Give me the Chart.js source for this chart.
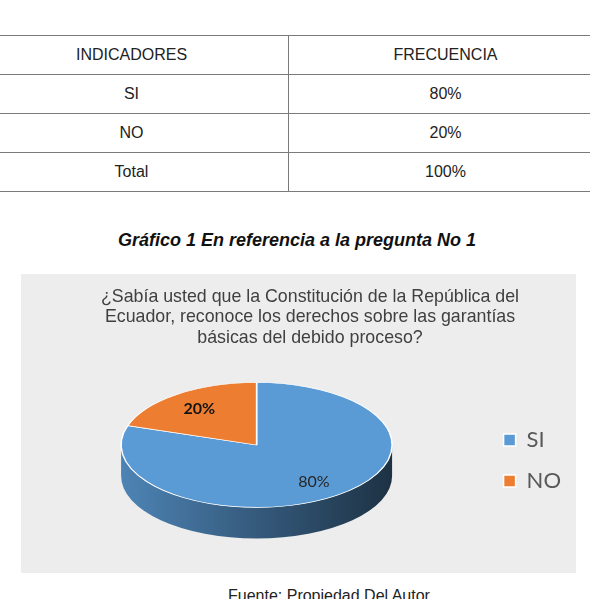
<!DOCTYPE html>
<html lang="es">
<head>
<meta charset="UTF-8">
<meta name="viewport" content="width=device-width, initial-scale=1.0">
<title>Gráfico 1 En referencia a la pregunta No 1</title>
<script src="https://cdn.jsdelivr.net/npm/chart.js"></script>
<style>
  body {
    margin: 0;
    width: 590px;
    height: 599px;
    overflow: hidden;
    position: relative;
    background: #fff;
    font-family: "Liberation Sans", Arial, sans-serif;
    color: #222;
  }
  #tabla {
    position: absolute;
    left: -25px;
    top: 35px;
    width: 627px;
    border-collapse: collapse;
    font-size: 16px;
  }
  #tabla td {
    border-top: 1px solid #7a7a7a;
    border-bottom: 1px solid #7a7a7a;
    height: 38px;
    padding: 0;
    text-align: center;
  }
  #tabla td:first-child {
    border-right: 1px solid #7a7a7a;
    width: 313px;
  }
  .caption {
    position: absolute;
    top: 230px;
    left: 2px;
    width: 590px;
    text-align: center;
    font-size: 18px;
    line-height: 21px;
    font-weight: bold;
    font-style: italic;
    color: #111;
  }
  #grafico {
    position: absolute;
    left: 21px;
    top: 274px;
    background: #ededed;
  }
  .fuente {
    position: absolute;
    left: 228px;
    top: 587px;
    font-size: 16px;
    line-height: 18px;
  }
</style>
</head>
<body>
  <table id="tabla"><tbody></tbody></table>
  <div class="caption">Gráfico 1 En referencia a la pregunta No 1</div>
  <canvas id="grafico" width="555" height="299"></canvas>
  <div class="fuente">Fuente: Propiedad Del Autor</div>

<script>
  // datos
  const encabezados = ['INDICADORES', 'FRECUENCIA'];
  const categorias = ['SI', 'NO'];
  const porcentajes = [80, 20];
  const colores = ['#5b9bd5', '#ed7d31'];
  const tituloGrafico = [
    '¿Sabía usted que la Constitución de la República del',
    'Ecuador, reconoce los derechos sobre las garantías',
    'básicas del debido proceso?'
  ];

  // tabla de frecuencias
  const cuerpo = document.querySelector('#tabla tbody');
  function fila(a, b) {
    const tr = document.createElement('tr');
    [a, b].forEach((t) => {
      const td = document.createElement('td');
      td.textContent = t;
      tr.appendChild(td);
    });
    cuerpo.appendChild(tr);
  }
  fila(encabezados[0], encabezados[1]);
  categorias.forEach((c, i) => fila(c, porcentajes[i] + '%'));
  fila('Total', porcentajes.reduce((s, v) => s + v, 0) + '%');

  // efecto 3D: cara superior achatada + pared lateral
  const PROF = 31;
  const ACHATE = 0.461;
  const estiloEtiqueta = [
    { weight: 'normal', color: '#262626' },
    { weight: 'bold', color: '#141414' }
  ];

  function oscurecer(hex, f) {
    const n = parseInt(hex.slice(1), 16);
    const r = Math.round(((n >> 16) & 255) * f);
    const g = Math.round(((n >> 8) & 255) * f);
    const b = Math.round((n & 255) * f);
    return `rgb(${r},${g},${b})`;
  }

  function centro(chart) {
    const arcs = chart.getDatasetMeta(0).data;
    const p = arcs[0].getProps(['x', 'y', 'outerRadius'], true);
    return { arcs, x: p.x, y: p.y, r: p.outerRadius, top: p.y - PROF / 2 };
  }

  const pastel3d = {
    id: 'pastel3d',
    beforeDatasetsDraw(chart) {
      const ctx = chart.ctx;
      const { arcs, x, y, r, top } = centro(chart);
      const ry = r * ACHATE;

      // pared lateral visible (mitad delantera, angulos 0..PI)
      arcs.forEach((arc, i) => {
        const p = arc.getProps(['startAngle', 'endAngle'], true);
        [-2 * Math.PI, 0, 2 * Math.PI].forEach((d) => {
          const a0 = Math.max(p.startAngle + d, 0);
          const a1 = Math.min(p.endAngle + d, Math.PI);
          if (a1 <= a0) return;
          const col = colores[i];
          const g = ctx.createLinearGradient(x - r, 0, x + r, 0);
          g.addColorStop(0, oscurecer(col, 0.85));
          g.addColorStop(0.5, oscurecer(col, 0.58));
          g.addColorStop(1, oscurecer(col, 0.32));
          ctx.beginPath();
          ctx.ellipse(x, top, r, ry, 0, a0, a1);
          ctx.ellipse(x, top + PROF, r, ry, 0, a1, a0, true);
          ctx.closePath();
          ctx.fillStyle = g;
          ctx.fill();
        });
      });

      ctx.save();
      ctx.translate(x, top);
      ctx.scale(1, ACHATE);
      ctx.translate(-x, -y);
    },
    afterDatasetsDraw(chart) {
      const ctx = chart.ctx;
      ctx.restore();
      const { arcs, x, r, top } = centro(chart);
      ctx.save();
      ctx.textAlign = 'center';
      ctx.textBaseline = 'middle';
      arcs.forEach((arc, i) => {
        const p = arc.getProps(['startAngle', 'endAngle'], true);
        const mid = (p.startAngle + p.endAngle) / 2;
        const rr = r * 0.72;
        ctx.font = `${estiloEtiqueta[i].weight} 16px Lato`;
        ctx.fillStyle = estiloEtiqueta[i].color;
        ctx.fillText(porcentajes[i] + '%', x + Math.cos(mid) * rr, top + Math.sin(mid) * rr * ACHATE);
      });
      ctx.restore();
    }
  };

  // hueco entre el pastel y la leyenda
  const espacio = {
    id: 'espacio',
    beforeInit(chart) {
      Chart.layouts.addBox(chart, {
        position: 'right',
        weight: 500,
        fullSize: false,
        options: {},
        left: 0, top: 0, right: 0, bottom: 0, width: 0, height: 0,
        isHorizontal() { return false; },
        update(maxWidth, maxHeight) { this.width = 20.4; this.height = maxHeight; },
        draw() {}
      });
    }
  };

  new Chart(document.getElementById('grafico'), {
    type: 'pie',
    data: {
      labels: categorias,
      datasets: [{
        data: porcentajes,
        backgroundColor: colores,
        borderColor: '#ffffff',
        borderWidth: 1.5,
        radius: 135.5,
        clip: 300
      }]
    },
    options: {
      responsive: false,
      animation: false,
      layout: { padding: { left: 28, right: 5, top: 0, bottom: 6 } },
      plugins: {
        title: {
          display: true,
          text: tituloGrafico,
          color: '#404040',
          font: { family: 'Liberation Sans', size: 17.8, weight: 'normal', lineHeight: 1.16 },
          padding: { top: 12.4, bottom: 5.6 }
        },
        legend: {
          position: 'right',
          fullSize: false,
          labels: {
            boxWidth: 12,
            boxHeight: 12,
            padding: 19,
            color: '#595959',
            font: { family: 'Lato', size: 22 }
          }
        },
        tooltip: { enabled: false }
      }
    },
    plugins: [espacio, pastel3d]
  });
</script>
</body>
</html>
